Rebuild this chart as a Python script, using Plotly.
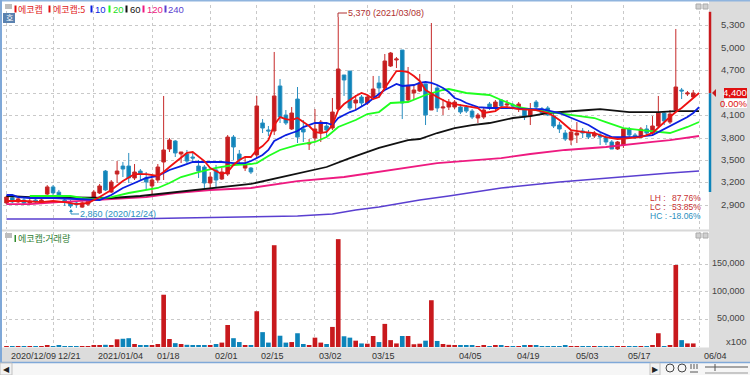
import plotly.graph_objects as go

opens = [2930,3000,2945,2970,2930,2970,2930,3050,3145,3075,2970,2930,2930,2875,2915,2997,3064,3358,3077,3318,3425,3425,3265,3358,3265,3158,3238,3479,3653,3760,3586,3586,3546,3425,3412,3198,3372,3251,3318,3813,3586,3398,3398,3573,4001,3907,3894,4497,4108,3921,4322,3921,3720,3800,3880,3961,3934,4188,4644,4697,4269,4349,4269,4349,4537,4470,4764,4845,4978,4309,4403,4430,4524,4175,4470,4202,4215,4215,4215,4215,4161,4068,4081,4255,4202,4309,4242,4242,4215,4175,4094,4282,4188,4202,4094,3974,3867,3773,3840,3894,3867,3827,3840,3813,3747,3653,3707,3921,3840,3813,3921,3867,3961,4135,4014,4175,4443,4390,4349]
highs = [3025,3010,3000,2995,2985,2985,2985,3170,3170,3105,3037,2970,2945,2955,2970,3105,3185,3372,3238,3492,3479,3600,3452,3385,3345,3265,3452,4363,3800,3773,3613,3640,3600,3506,3439,3345,3439,3398,3840,3840,3640,3546,3412,4363,4054,3961,4952,4590,4175,4215,4483,4041,3787,4188,4041,4014,4336,5420,4644,4697,4376,4376,4376,4631,4631,4925,4952,4885,4978,4751,4510,4657,4524,5340,4510,4322,4322,4309,4255,4242,4188,4135,4215,4282,4309,4322,4309,4269,4282,4202,4269,4309,4215,4229,4148,4014,3907,3907,4014,3934,3907,3894,3867,3854,3773,3760,3934,3947,3867,3947,3974,4094,4363,4161,4175,5260,4470,4430,4443]
lows = [2915,2930,2930,2915,2905,2930,2915,3035,3035,2995,2890,2863,2865,2865,2890,2970,3050,3090,3064,3198,3278,3198,3238,3238,3104,3037,3198,3238,3613,3546,3465,3465,3465,3265,3131,3131,3144,3238,3292,3506,3465,3358,3318,3532,3867,3827,3840,4001,3974,3907,3733,3747,3640,3747,3747,3813,3907,4175,4363,4175,4175,4215,4242,4322,4336,4443,4751,4737,4054,4282,4322,4416,3974,4175,4148,4108,4175,4188,4121,4135,4054,4001,4054,4175,4175,4202,4202,4202,4148,4041,3974,4175,4108,4094,3934,3867,3760,3707,3733,3800,3787,3800,3707,3707,3653,3640,3667,3813,3787,3800,3827,3827,3947,3974,3988,4161,4322,4363,4336]
closes = [3010,2945,2985,2930,2955,2945,2970,3145,3065,3025,2955,2890,2915,2930,2955,3077,3158,3104,3211,3358,3385,3265,3345,3318,3211,3238,3412,3640,3773,3600,3613,3492,3532,3358,3198,3278,3238,3345,3813,3680,3506,3439,3345,4229,3934,3894,4363,4081,4001,4135,3813,3881,3733,3921,4014,3907,4148,4724,4577,4202,4309,4269,4349,4456,4470,4831,4938,4858,4269,4497,4443,4537,4108,4403,4202,4215,4282,4282,4148,4161,4081,4108,4175,4202,4282,4229,4255,4229,4255,4081,4188,4215,4135,4108,3961,3921,3787,3880,3867,3867,3813,3867,3813,3747,3653,3747,3921,3840,3813,3921,3867,3961,4135,4028,4121,4483,4430,4403,4403]
volumes = [300,300,300,300,300,300,300,3000,300,2000,300,300,300,300,300,2000,2000,4000,2000,14000,15000,16000,5500,2500,2500,2500,5500,95000,14500,7000,5500,4000,2500,3500,3500,2500,5500,8000,40000,16000,9000,3500,3000,65000,27000,8000,185000,20500,8000,9000,25000,5500,3500,17000,8000,5500,36500,196000,19500,17000,11500,6500,6000,20000,9000,42000,12500,6500,20000,20000,5000,6000,11500,85000,11000,5500,4000,2500,2000,2000,2000,1000,2500,1500,3000,2000,1500,1500,1500,2000,3500,2000,1500,1500,1500,1500,2000,1500,1500,300,1500,1500,1500,1500,1500,1500,1500,1200,300,1500,1500,3500,25000,1500,2000,149000,12500,6500,6500]
day_index = list(range(len(opens)))

ma5_idx = [0,3,6,8,10,12,14,15,16,18,20,22,24,26,27,28,30,31,32,33,34,35,37,38,39,40,41,42,43,44]+list(range(45,87))+[88,90,91,93,94,95,96,97,99,101,103,105,107,109,111,112,113,114,115,116,117,118,119]
ma5 = [2957,2957,2943,2957,2943,2916,2930,2970,3010,3104,3225,3318,3318,3292,3345,3412,3532,3600,3613,3546,3492,3399,3318,3345,3439,3506,3546,3546,3640,3693,3773,3974,4081,4054,4041,4068,4014,3961,3881,3867,3881,3974,4175,4255,4309,4363,4403,4376,4322,4349,4470,4577,4697,4697,4684,4631,4564,4443,4390,4349,4309,4269,4255,4242,4229,4215,4202,4135,4148,4161,4215,4215,4188,4175,4175,4135,4094,4041,3974,3907,3881,3867,3813,3787,3800,3813,3867,3934,4001,4081,4148,4202,4269,4336,4403]
ma10_idx = [0,1,2,4,8,12,15,16,18,20,22,24,26,28,30,32,34,37,39,41,42,44,45,46,47,48,49,50,51,52,53,55,56,57,58,59,60,62,64,65,66,67,68,70,71,72,73,74,75,76,77,78,79,81,83,85,87,89,92,95,97,100,102,104,106,108,111,113,115,117,118,119]
ma10 = [3037,3037,3010,2997,2997,2983,2970,2970,3037,3131,3198,3265,3292,3372,3425,3479,3479,3479,3465,3465,3492,3573,3640,3760,3800,3840,3867,3894,3947,3974,4001,4001,3974,4068,4108,4148,4175,4269,4390,4443,4483,4523,4497,4510,4537,4550,4537,4510,4470,4416,4336,4309,4269,4215,4202,4202,4202,4188,4188,4135,4068,3974,3881,3813,3813,3813,3840,3921,4001,4081,4135,4215]
ma20_idx = [4,8,11,13,15,18,21,26,28,30,33,36,39,42,43,45,47,50,53,55,57,60,62,64,66,69,72,75,76,79,83,85,88,91,95,99,101,103,106,109,114,117,119]
ma20 = [3024,3024,3024,2997,2983,3010,3064,3131,3198,3278,3345,3399,3439,3452,3465,3559,3640,3707,3747,3813,3948,4041,4121,4148,4269,4282,4376,4443,4456,4403,4376,4309,4215,4175,4135,4094,4068,4014,3934,3907,3867,3948,4014]
ma60_idx = [0,4,8,14,18,23,29,35,39,42,48,55,59,64,69,71,74,77,80,83,87,90,93,96,100,102,107,112,115,119]
ma60 = [3024,3010,3010,2997,2997,3024,3077,3131,3158,3185,3291,3412,3532,3667,3773,3787,3867,3934,3974,4001,4068,4094,4135,4148,4175,4188,4148,4148,4161,4161]
ma120_idx = [0,4,9,15,24,29,35,42,50,58,68,74,85,90,96,103,111,114,119]
ma120 = [2916,2916,2943,2970,3010,3064,3104,3131,3224,3278,3399,3465,3532,3586,3640,3680,3747,3773,3827]
ma240_idx = [0,21,30,42,50,56,60,64,71,76,85,95,105,114,119]
ma240 = [2716,2716,2729,2743,2756,2783,2836,2876,2970,3024,3131,3211,3278,3332,3358]

price_ticks = [5300,5000,4700,4400,4100,3800,3500,3200,2900]
volume_ticks = [150000,100000,50000]
date_ticks = [0,8,15,25,35,43,53,62,77,87,97,106,119]
date_labels = ["2020/12/09","12/21","2021/01/04","01/18","02/01","02/15","03/02","03/15","04/05","04/19","05/03","05/17","06/04"]
ma_labels = ["10","20","60","120","240"]

RED="#c8191d"; BLUE="#0d84ba"; GREEN="#1fff1f"; BLACK="#111111"; PINK="#ee1a80"; PURPLE="#5a3fd0"; MA10C="#0a1fe0"; MA5C="#ee1111"
SANS="Liberation Sans"
L,T,R,B=3,5,41,28
W=750-L-R; H=375-T-B
px=lambda v:(v-L)/W
py=lambda v:(375-B-v)/H

fig=go.Figure()
fig.add_trace(go.Candlestick(x=day_index,open=opens,high=highs,low=lows,close=closes,xaxis="x",yaxis="y",
    increasing=dict(line=dict(color="#c62a2a",width=1),fillcolor=RED),
    decreasing=dict(line=dict(color="#2a8fc0",width=1),fillcolor=BLUE),whiskerwidth=0,showlegend=False))
for xs,ys,c,w in [(ma240_idx,ma240,PURPLE,1.6),(ma120_idx,ma120,PINK,1.8),(ma60_idx,ma60,BLACK,1.8),(ma20_idx,ma20,GREEN,1.8),(ma10_idx,ma10,MA10C,1.8),(ma5_idx,ma5,MA5C,1.8)]:
    fig.add_trace(go.Scatter(x=xs,y=ys,mode="lines",line=dict(color=c,width=w),xaxis="x",yaxis="y",showlegend=False,hoverinfo="skip"))
bar_colors=[RED if c>=o else BLUE for o,c in zip(opens,closes)]
fig.add_trace(go.Bar(x=day_index,y=volumes,marker=dict(color=bar_colors,line=dict(width=0)),width=0.8,xaxis="x2",yaxis="y2",showlegend=False))

grid=dict(showgrid=True,gridcolor="#c9c9c9",griddash="dot",gridwidth=1,zeroline=False,showline=False,ticks="")
xr=[(L-6.5)/5.82,(709-6.5)/5.82]
fig.update_layout(width=750,height=375,margin=dict(l=L,r=R,t=T,b=B,pad=0),paper_bgcolor="white",plot_bgcolor="white",autosize=False,bargap=0.2,boxgap=0.12,
    font=dict(family=SANS,size=10,color="#444"),
    xaxis=dict(domain=[0,1],range=xr,anchor="y",tickvals=date_ticks,showticklabels=False,rangeslider=dict(visible=False),**grid),
    xaxis2=dict(domain=[0,1],range=xr,anchor="y2",tickvals=date_ticks,showticklabels=False,**grid),
    yaxis=dict(domain=[py(229),1],range=[2582,5581],tickvals=price_ticks,showticklabels=False,side="right",**grid),
    yaxis2=dict(domain=[0,py(232)],range=[0,209000],tickvals=volume_ticks,showticklabels=False,side="right",**grid))

shapes=[]
def rect(x0,y0,x1,y1,fill,line=None,layer="above"):
    shapes.append(dict(type="rect",xref="paper",yref="paper",x0=px(x0),x1=px(x1),y0=py(y0),y1=py(y1),fillcolor=fill,line=dict(width=1 if line else 0,color=line or fill),layer=layer))
def seg(x0,y0,x1,y1,c,w=1):
    shapes.append(dict(type="line",xref="paper",yref="paper",x0=px(x0),x1=px(x1),y0=py(y0),y1=py(y1),line=dict(color=c,width=w)))
rect(709,0,750,362,"#dcdcdc")
rect(0,347.5,750,362,"#dcdcdc")
rect(0,363,750,375,"#f6f6f6")
rect(0,229.5,709,231.5,"#d8d8d8")
seg(0,0.5,750,0.5,"#8fb4de",2)
seg(1,0,1,362,"#7fa8d8",2)
seg(0,362.5,750,362.5,"#7fa8d8",1.5)
for yy in (4,233):
    rect(5,yy,12,yy+5,"#bdbdbd")
    rect(696,yy,701,yy+5,"#d0d0d0","#aaaaaa")
    rect(703,yy,708,yy+5,"#d0d0d0","#aaaaaa")
rect(3,13,15,23,"#5a82b0")
rect(0,363,12,375,"#f2f2f2","#c0c0c0")
rect(650,363,660,375,"#f2f2f2","#c0c0c0")
shapes.append(dict(type="line",xref="paper",yref="y",x0=px(710),x1=px(710),y0=4400,y1=5490,line=dict(color="#c8191d",width=2.5)))
shapes.append(dict(type="line",xref="paper",yref="y",x0=px(710),x1=px(710),y0=3077,y1=4400,line=dict(color="#0d84ba",width=2.5)))
shapes.append(dict(type="path",xref="paper",yref="paper",path=f"M {px(712)} {py(93)} L {px(716)} {py(89)} L {px(716)} {py(97)} Z",fillcolor="#c8191d",line=dict(width=0)))
rect(724,88,747,98,"#e01010")
rect(724,99,747,108,"#ffffff")
seg(338,17,338,13,"#b03030"); seg(338,13,347,13,"#b03030")
seg(71,212,71,214,"#2a8fc0"); seg(71,214,79,214,"#2a8fc0")
shapes.append(dict(type="path",xref="paper",yref="paper",path=f"M {px(71)} {py(209)} L {px(69)} {py(212)} L {px(73)} {py(212)} Z",fillcolor="#2a8fc0",line=dict(width=0)))
for xx,c in [(15.5,"#e01010"),(49.5,"#e01010"),(91.5,MA10C),(109.5,GREEN),(126.5,BLACK),(143.5,PINK),(165.5,PURPLE)]:
    rect(xx-1,5.5,xx+1,12.5,c)
rect(14.5,235,16,242,"#2e8b2e")
for cx in (670,682):
    shapes.append(dict(type="circle",xref="paper",yref="paper",x0=px(cx-4),x1=px(cx+4),y0=py(372),y1=py(364),line=dict(color="#444",width=1)))
for xx in (691,694,697):
    seg(xx,364,xx,369,"#555",1)
seg(690,372,698,372,"#555",1)
seg(705,367,748,367,"#555",1)
seg(715,364,715,371,"#555",1)
seg(705,373,748,373,"#999",1)
fig.update_layout(shapes=shapes)

ann=[]
def label(x,y,t,c="#444",size=10,anchor="left",fam=SANS):
    ann.append(dict(xref="paper",yref="paper",x=px(x),y=py(y),text=t,showarrow=False,xanchor=anchor,yanchor="middle",font=dict(family=fam,size=size,color=c),borderpad=0,borderwidth=0))
for i,t in zip(date_ticks,date_labels):
    ann.append(dict(xref="x2",yref="paper",x=i,y=py(355.5),text=t,showarrow=False,xanchor="left",xshift=2.5,yanchor="middle",font=dict(family=SANS,size=9,color="#333")))
for p in price_ticks:
    if p!=4400:
        ann.append(dict(xref="paper",yref="y",x=px(747),y=p,text=f"{p:,}",showarrow=False,xanchor="right",yanchor="middle",yshift=1,font=dict(family=SANS,size=9.5,color="#444")))
for v in volume_ticks:
    ann.append(dict(xref="paper",yref="y2",x=px(747),y=v,text=f"{v:,}",showarrow=False,xanchor="right",yanchor="middle",yshift=1,font=dict(family=SANS,size=9,color="#444")))
label(747,341,"x100",anchor="right",size=9.5)
label(747,92.5,"4,400","#ffffff",9.5,"right")
label(747,103.5,"0.00%","#e01010",9.5,"right")
CJK="Noto Sans CJK KR"
label(18,9,"에코캡","#e02020",9,fam=CJK)
label(53,9,"에코캡:5","#e02020",9,fam=CJK)
for xx,t,c in zip([95,113,130,147,168],ma_labels,[MA10C,"#22dd22",BLACK,PINK,PURPLE]):
    label(xx,9,t,c,9.5)
label(5.5,18,"호","#ffffff",8,fam=CJK)
label(18,238.5,"에코캡:거래량","#2e7d32",9,fam=CJK)
label(348,13,"5,370 (2021/03/08)","#b03030",9)
label(80,214,"2,860 (2020/12/24)","#2a8fc0",9)
label(650,198,"LH :","#c83030",8.5); label(701,198,"87.76%","#c83030",8.5,"right")
label(650,207,"LC :","#c83030",8.5); label(701,207,"53.85%","#c83030",8.5,"right")
label(650,216,"HC :","#2a8fc0",8.5); label(701,216,"-18.06%","#2a8fc0",8.5,"right")
label(3,369,"◀","#222",8); label(652,369,"▶","#222",8)
fig.update_layout(annotations=ann)
fig.write_html("out.html",config={"displayModeBar":False},post_script="document.body.style.margin='0';document.body.style.overflow='hidden';")
